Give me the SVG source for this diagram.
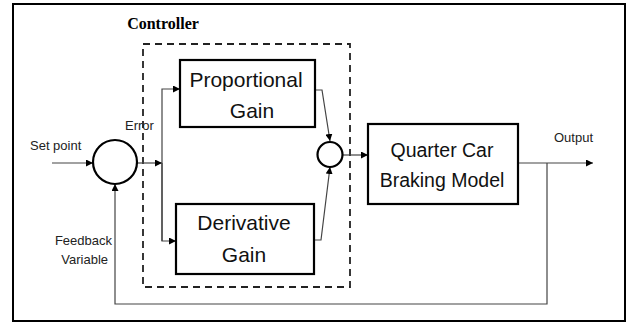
<svg xmlns="http://www.w3.org/2000/svg" width="628" height="323" viewBox="0 0 628 323">
<style>
.frame{fill:none;stroke:#000;stroke-width:2}
.box{fill:#fff;stroke:#000;stroke-width:2.2}
.sum{fill:#fff;stroke:#000;stroke-width:2.2}
.dash{fill:none;stroke:#222;stroke-width:1.8;stroke-dasharray:7,5}
.wire{fill:none;stroke:#444;stroke-width:1.2}
.big{font-family:"Liberation Sans",Arial,sans-serif;font-size:21px;fill:#111;text-anchor:middle}
.plant{font-size:19.5px}
.small{font-family:"Liberation Sans",Arial,sans-serif;font-size:13px;fill:#222}
.title{font-family:"Liberation Serif","Times New Roman",serif;font-size:16px;font-weight:bold;fill:#000;text-anchor:middle}
</style>
<defs>
<marker id="arr" viewBox="0 0 10 10" refX="10" refY="5" markerWidth="7" markerHeight="7" markerUnits="userSpaceOnUse" orient="auto">
<path d="M0,0 L10,5 L0,10 z" fill="#000"/>
</marker>
</defs>
<rect x="13" y="4" width="612" height="317" fill="#fff" class="frame"/>
<g id="controller">
<rect x="143" y="44" width="207" height="243" class="dash"/>
<text x="163" y="29" class="title">Controller</text>
</g>
<g id="connectors">
<line x1="52" y1="163" x2="93" y2="163" class="wire" marker-end="url(#arr)"/>
<line x1="137" y1="163" x2="162" y2="163" class="wire" marker-end="url(#arr)"/>
<polyline points="162,241 162,89 180,89" class="wire" marker-end="url(#arr)"/>
<polyline points="162,163 162,241 176,241" class="wire" marker-end="url(#arr)"/>
<polyline points="315,90 322,90 330,141" class="wire" marker-end="url(#arr)"/>
<polyline points="314,240 321,240 330,167" class="wire" marker-end="url(#arr)"/>
<line x1="343" y1="155" x2="368" y2="155" class="wire" marker-end="url(#arr)"/>
<line x1="518" y1="163" x2="593" y2="163" class="wire" marker-end="url(#arr)"/>
<polyline points="547,163 547,304 115,304 115,184" class="wire" marker-end="url(#arr)"/>
</g>
<g id="sum1">
<circle cx="115" cy="162" r="22" class="sum"/>
</g>
<g id="sum2">
<circle cx="330" cy="154.5" r="12.5" class="sum"/>
</g>
<g id="proportional">
<rect x="180" y="60" width="135" height="67" class="box"/>
<text x="246" y="87" class="big">Proportional</text>
<text x="252" y="118" class="big">Gain</text>
</g>
<g id="derivative">
<rect x="176" y="204" width="138" height="70" class="box"/>
<text x="244" y="230" class="big">Derivative</text>
<text x="244" y="262" class="big">Gain</text>
</g>
<g id="plant">
<rect x="368" y="124" width="150" height="80" class="box"/>
<text x="442" y="157" class="big plant">Quarter Car</text>
<text x="442" y="187" class="big plant">Braking Model</text>
</g>
<g id="labels">
<text x="30" y="150" class="small">Set point</text>
<text x="125" y="130" class="small">Error</text>
<text x="554" y="142" class="small">Output</text>
<text x="112" y="245" class="small" text-anchor="end">Feedback</text>
<text x="108" y="264" class="small" text-anchor="end">Variable</text>
</g>
</svg>
